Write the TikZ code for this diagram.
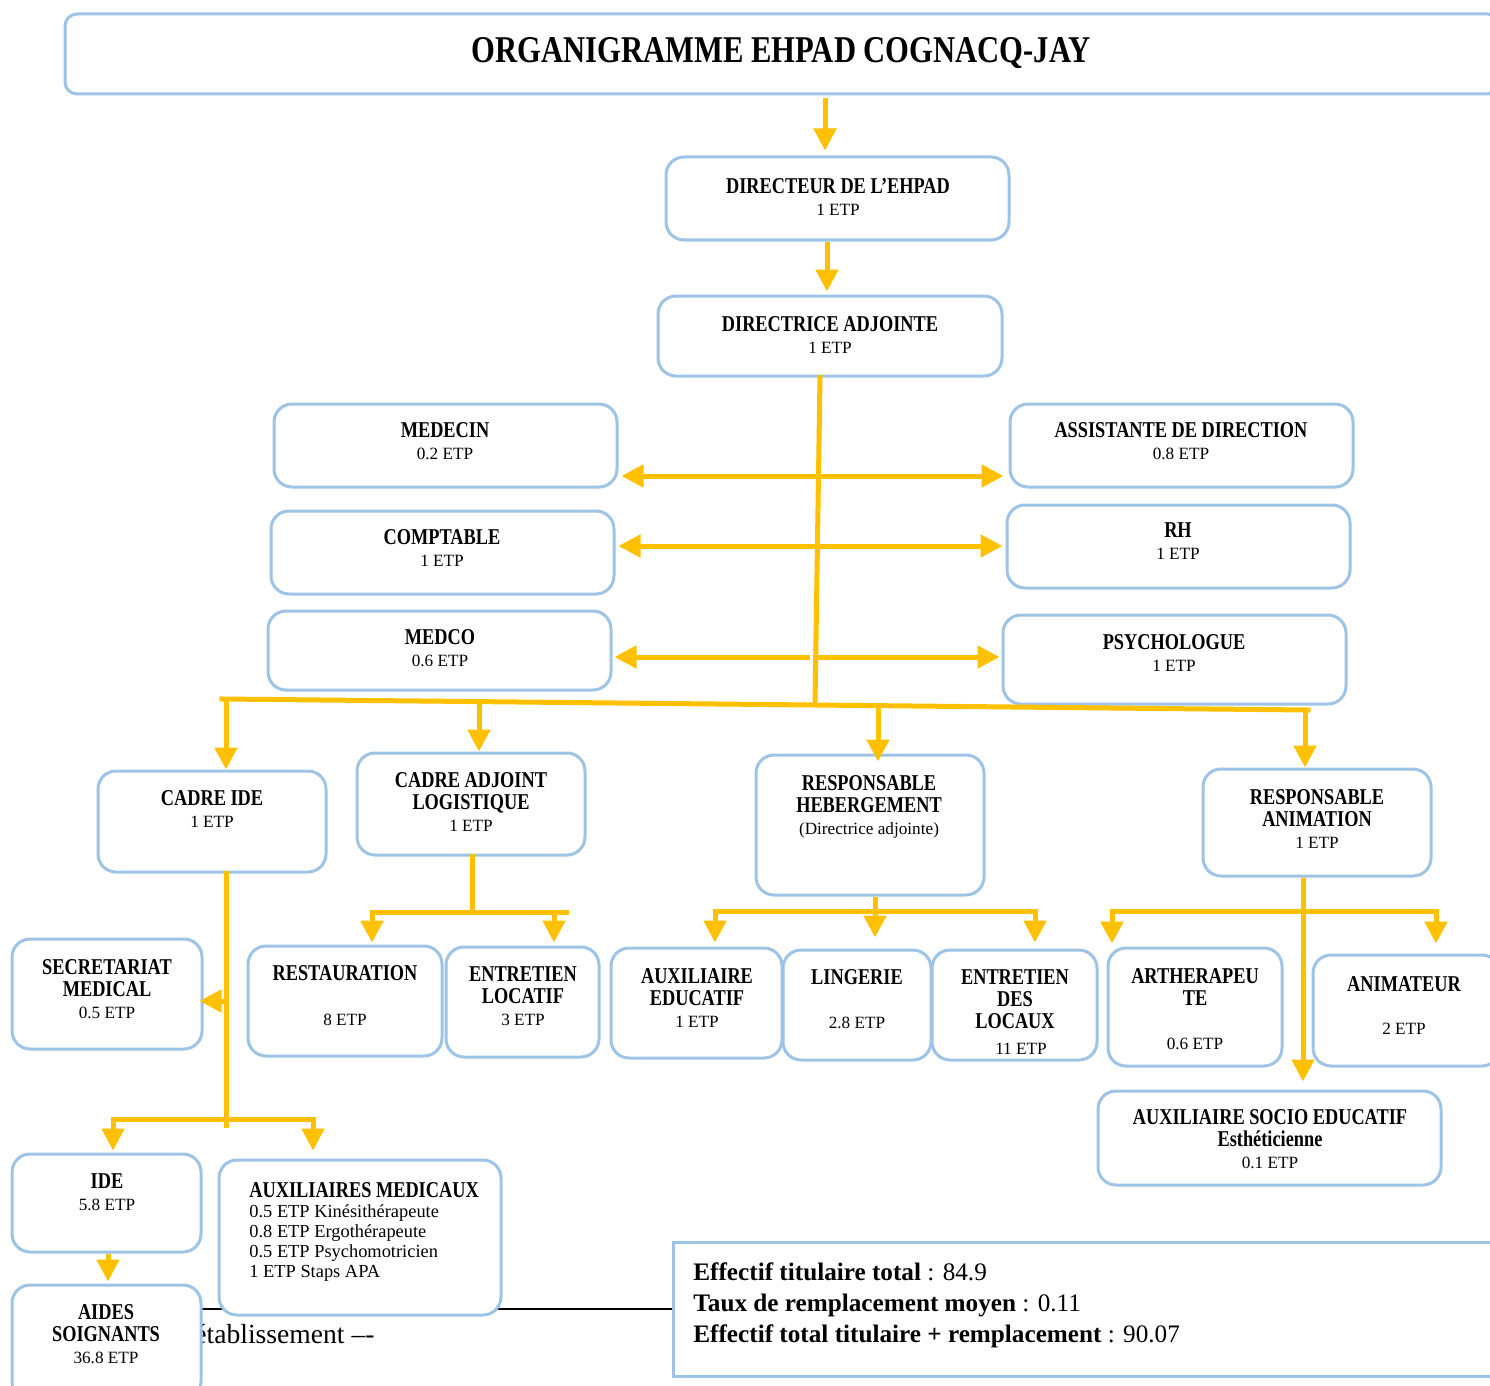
\documentclass[tikz,border=0pt]{standalone}
\usepackage{fontspec}
\setmainfont{Liberation Serif}
\newfontfamily\boxfont{Liberation Serif}[FakeStretch=0.81]
\usetikzlibrary{arrows.meta, fit}

\definecolor{boxblue}{HTML}{9DC3E6}
\definecolor{linkorange}{HTML}{FFC000}
\newcommand{\etp}[1]{{\normalfont\fontsize{8.6}{8.6}\selectfont #1}}
\newcommand{\aux}[1]{{\normalfont\fontsize{9.2}{9.2}\selectfont #1}}

\begin{document}
\begin{tikzpicture}[x=0.5pt, y=-0.5pt]
		% Styles
		\tikzset{box style/.style={draw=boxblue, line width=1.5pt,
								rounded corners=9pt, fill=white, inner sep=0pt},
				text style/.style={inner sep=0pt, align=center, anchor=north,
								font=\boxfont\bfseries\fontsize{11.3}{11}\selectfont},
				link style/.style={draw=linkorange, line width=2.5pt, line cap=rect},
				arrow style/.style={link style, line cap=butt,
								-{Triangle[width=11pt, length=11pt]}}}

		\useasboundingbox (0,0) rectangle (1490,1386);
		\clip (0,0) rectangle (1490,1386);

		% Lines behind the boxes
		\draw[line width=1pt] (201,1309) -- (673,1309);
		\node[anchor=base west, inner sep=0pt, font=\fontsize{13.8}{13.8}\selectfont]
			(etab) at (194,1343) {établissement –-};

		% Draw boxes
		\node[box style, rounded corners=6pt, fit={(65,14) (1500,94)}] 	(title) {};
		\node[box style, fit={(666,157) (1009,240)}] 	(dir) {};
		\node[box style, fit={(658,296) (1002,376)}] 	(adj) {};
		\node[box style, fit={(274,404) (617,487)}] 	(med) {};
		\node[box style, fit={(1010,404) (1353,487)}] 	(asst) {};
		\node[box style, fit={(271,511) (614,594)}] 	(compt) {};
		\node[box style, fit={(1007,505) (1350,588)}] 	(rh) {};
		\node[box style, fit={(268,611) (611,690)}] 	(medco) {};
		\node[box style, fit={(1003,615) (1346,704)}] 	(psy) {};
		\node[box style, fit={(98,771) (326,872)}] 		(cadre) {};
		\node[box style, fit={(357,753) (585,855)}] 	(logi) {};
		\node[box style, fit={(756,755) (984,895)}] 	(heb) {};
		\node[box style, fit={(1203,769) (1431,876)}] 	(anim) {};
		\node[box style, fit={(12,939) (202,1049)}] 	(secr) {};
		\node[box style, fit={(248,946) (442,1056)}] 	(resto) {};
		\node[box style, fit={(446,947) (599,1057)}] 	(entloc) {};
		\node[box style, fit={(611,948) (782,1058)}] 	(auxedu) {};
		\node[box style, fit={(783,950) (931,1060)}] 	(linge) {};
		\node[box style, fit={(932,950) (1097,1060)}] 	(locaux) {};
		\node[box style, fit={(1108,948) (1282,1066)}] 	(arth) {};
		\node[box style, fit={(1313,955) (1500,1066)}] 	(animat) {};
		\node[box style, fit={(1098,1091) (1441,1185)}] (auxsoc) {};
		\node[box style, fit={(12,1154) (201,1252)}] 	(ide) {};
		\node[box style, fit={(219,1160) (501,1315)}] 	(auxmed) {};
		\node[box style, fit={(12,1285) (201,1400)}] 	(aides) {};
		\node[box style, rounded corners=0pt, fit={(673,1242) (1500,1376)}] (total) {};

		% Box texts
		\node[text style, font=\boxfont\bfseries\fontsize{18.9}{18.9}\selectfont]
			(title-t) at (781,37) {ORGANIGRAMME EHPAD COGNACQ-JAY};
		\node[text style] (dir-t) at (838,178) {DIRECTEUR DE L’EHPAD\\\etp{1 ETP}};
		\node[text style] (adj-t) at (830,316) {DIRECTRICE ADJOINTE\\\etp{1 ETP}};
		\node[text style] (med-t) at (445,422) {MEDECIN\\\etp{0.2 ETP}};
		\node[text style] (asst-t) at (1181,422) {ASSISTANTE DE DIRECTION\\\etp{0.8 ETP}};
		\node[text style] (compt-t) at (442,529) {COMPTABLE\\\etp{1 ETP}};
		\node[text style] (rh-t) at (1178,522) {RH\\\etp{1 ETP}};
		\node[text style] (medco-t) at (440,629) {MEDCO\\\etp{0.6 ETP}};
		\node[text style] (psy-t) at (1174,634) {PSYCHOLOGUE\\\etp{1 ETP}};
		\node[text style] (cadre-t) at (212,790) {CADRE IDE\\\etp{1 ETP}};
		\node[text style] (logi-t) at (471,772) {CADRE ADJOINT\\LOGISTIQUE\\\etp{1 ETP}};
		\node[text style] (heb-t) at (869,775) {RESPONSABLE\\HEBERGEMENT\\\etp{(Directrice adjointe)}};
		\node[text style] (anim-t) at (1317,789) {RESPONSABLE\\ANIMATION\\\etp{1 ETP}};
		\node[text style] (secr-t) at (107,959) {SECRETARIAT\\MEDICAL\\\etp{0.5 ETP}};
		\node[text style] (resto-t) at (345,965) {RESTAURATION\\[11.5pt]\etp{8 ETP}};
		\node[text style] (entloc-t) at (523,966) {ENTRETIEN\\LOCATIF\\\etp{3 ETP}};
		\node[text style] (auxedu-t) at (697,968) {AUXILIAIRE\\EDUCATIF\\\etp{1 ETP}};
		\node[text style] (linge-t) at (857,969) {LINGERIE\\[11pt]\etp{2.8 ETP}};
		\node[text style] (locaux-t) at (1015,969) {ENTRETIEN\\DES\\LOCAUX\\[2pt]\hspace*{6pt}\etp{11 ETP}};
		\node[text style] (arth-t) at (1195,968) {ARTHERAPEU\\TE\\[11pt]\etp{0.6 ETP}};
		\node[text style] (animat-t) at (1404,976) {ANIMATEUR\\[10.5pt]\etp{2 ETP}};
		\node[text style] (auxsoc-t) at (1270,1109) {AUXILIAIRE SOCIO EDUCATIF\\Esthéticienne\\\etp{0.1 ETP}};
		\node[text style] (ide-t) at (107,1173) {IDE\\\etp{5.8 ETP}};
		\node[text style, anchor=north west, align=left,
			font=\boxfont\bfseries\fontsize{11.3}{10}\selectfont]
			(auxmed-t) at (249,1182) {AUXILIAIRES MEDICAUX\\\aux{0.5 ETP Kinésithérapeute}\\
			\aux{0.8 ETP Ergothérapeute}\\\aux{0.5 ETP Psychomotricien}\\\aux{1 ETP Staps APA}};
		\node[text style] (aides-t) at (106,1304) {AIDES\\SOIGNANTS\\\etp{36.8 ETP}};
		\node[anchor=north west, inner sep=0pt, align=left, font=\fontsize{12.6}{15.5}\selectfont]
			(total-t) at (693,1262) {\textbf{Effectif titulaire total} : 84.9\\
			\textbf{Taux de remplacement moyen} : 0.11\\
			\textbf{Effectif total titulaire + remplacement} : 90.07};

		% Draw connectors
		\draw[arrow style, shorten <=1.5pt, shorten >=2.5pt]
			([xshift=21.25pt]title.south) -- ([xshift=-6.25pt]dir.north);
		\draw[arrow style, shorten >=1.5pt]
			([xshift=-5.25pt]dir.south) -- ([xshift=-1.5pt]adj.north);

		\coordinate (hub) at (815,704);
		\draw[link style] ([xshift=-5pt]adj.south) -- (hub);

		\coordinate (s1) at (819,476);
		\coordinate (s2) at (818,546);
		\coordinate (s3) at (816,657);
		\draw[arrow style, shorten >=1.5pt] (s1) -- (s1 -| med.east);
		\draw[arrow style, shorten >=2.5pt] (s1) -- (s1 -| asst.west);
		\draw[arrow style, shorten >=1.5pt] (s2) -- (s2 -| compt.east);
		\draw[arrow style, shorten >=1.5pt] (s2) -- (s2 -| rh.west);
		\draw[arrow style, shorten >=1pt] ([xshift=-3pt]s3) -- (s3 -| medco.east);
		\draw[arrow style, shorten >=1pt] (s3) -- (s3 -| psy.west);

		% Main bus
		\draw[link style] (222,699) -- (1308,710);
		\coordinate (d1) at (226,699);
		\coordinate (d2) at (479,701.5);
		\coordinate (d3) at (878,705.5);
		\coordinate (d4) at (1305,710);
		\draw[arrow style] (d1) -- (d1 |- cadre.north);
		\draw[arrow style] (d2) -- (d2 |- logi.north);
		\draw[arrow style, shorten >=-4pt] (d3) -- (d3 |- heb.north);
		\draw[arrow style] (d4) -- (d4 |- anim.north);

		% Cadre IDE
		\coordinate (c1) at (226,1001);
		\coordinate (c2) at (226,1125);
		\draw[link style] (c1 |- cadre.south) -- (c2);
		\draw[arrow style, shorten >=-2pt] (c1) -- (c1 -| secr.east);
		\coordinate (k1) at (113,1119);
		\coordinate (k2) at (313,1119);
		\draw[link style] (k1) -- (k2);
		\draw[arrow style, shorten >=1pt] (k1) -- (k1 |- ide.north);
		\draw[arrow style, shorten >=4pt] (k2) -- (k2 |- auxmed.north);
		\draw[arrow style, shorten >=1pt] ([xshift=0.75pt]ide.south) -- ([xshift=0.75pt]aides.north);

		% Logistique
		\coordinate (l0) at (472,912);
		\coordinate (l1) at (372,912);
		\coordinate (l2) at (554,912);
		\coordinate (l3) at (566,912);
		\draw[link style] (l0 |- logi.south) -- (l0);
		\draw[link style] (l1) -- (l3);
		\draw[arrow style, shorten >=1pt] (l1) -- (l1 |- resto.north);
		\draw[arrow style, shorten >=1.5pt] (l2) -- (l2 |- entloc.north);

		% Hebergement
		\coordinate (h1) at (715,911);
		\coordinate (h2) at (875,911);
		\coordinate (h3) at (1035,911);
		\draw[link style] (h1) -- (h3);
		\draw[arrow style, shorten >=5.5pt] (h2 |- heb.south) -- (h2 |- linge.north);
		\draw[arrow style, shorten >=2pt] (h1) -- (h1 |- auxedu.north);
		\draw[arrow style, shorten >=3pt] (h3) -- (h3 |- locaux.north);

		% Animation
		\coordinate (m0) at (1303,911);
		\coordinate (m1) at (1112,911);
		\coordinate (m2) at (1436,911);
		\draw[link style] (m1) -- (m2);
		\draw[arrow style, shorten >=4pt] (m0 |- anim.south) -- (m0 |- auxsoc.north);
		\draw[arrow style, shorten >=1.5pt] (m1) -- (m1 |- arth.north);
		\draw[arrow style, shorten >=5pt] (m2) -- (m2 |- animat.north);

	\end{tikzpicture}
\end{document}
